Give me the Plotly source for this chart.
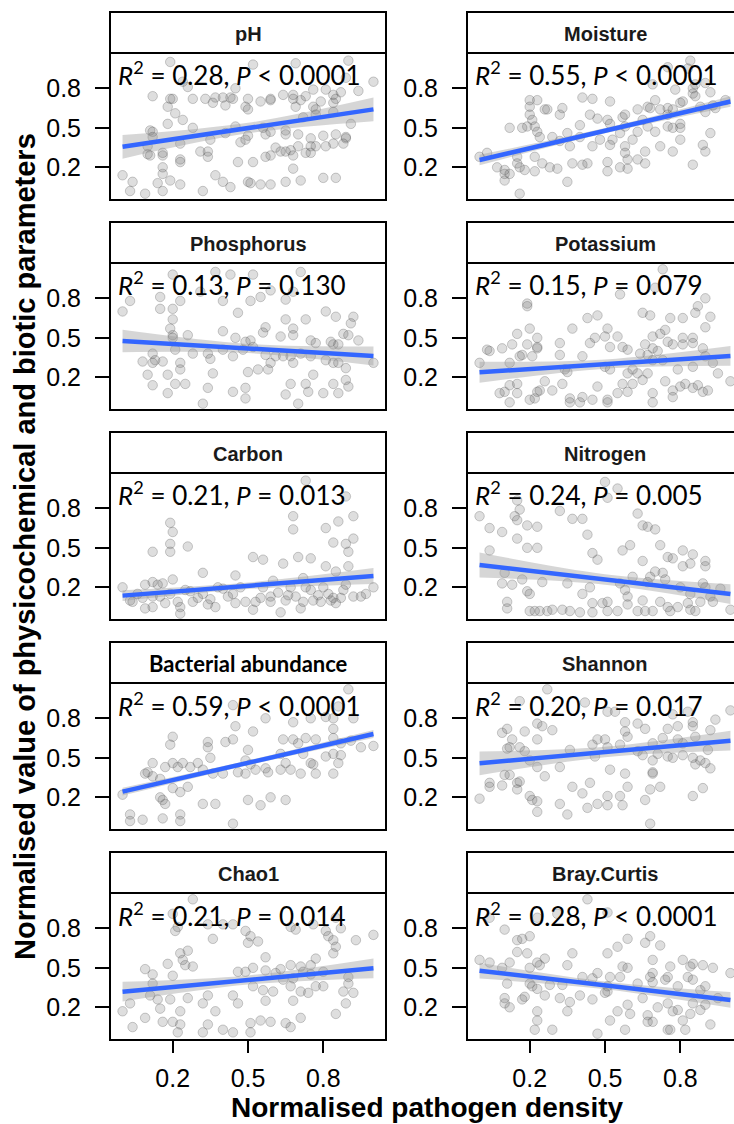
import plotly.graph_objects as go

W, H = 734, 1124

panels = ["pH", "Moisture", "Phosphorus", "Potassium", "Carbon", "Nitrogen",
          "Bacterial abundance", "Shannon", "Chao1", "Bray.Curtis"]
r2_text = ["0.28", "0.55", "0.13", "0.15", "0.21", "0.24", "0.59", "0.20", "0.21", "0.28"]
p_text = ["< 0.0001", "< 0.0001", "= 0.130", "= 0.079", "= 0.013", "= 0.005",
          "< 0.0001", "= 0.017", "= 0.014", "< 0.0001"]

tick_vals = [0.2, 0.5, 0.8]
tick_labels = ["0.2", "0.5", "0.8"]

# ---- points (x = normalised pathogen density, y = normalised parameter) ----
ph_x = [0.19,0.52,0.69,0.90,1.00,0.89,0.24,0.26,0.45,0.12, 0.20,0.19,0.28,0.33,0.37,0.40,0.43,0.44,0.50,0.59,
        0.64,0.68,0.68,0.71,0.73,0.76,0.81,0.84,0.87,0.94, 0.85,0.79,0.76,0.77,0.84,0.18,0.21,0.24,0.36,0.41,
        0.49,0.50,0.55,0.59,0.69,0.77,0.72,0.84,0.91,0.18, 0.11,0.12,0.12,0.23,0.28,0.35,0.41,0.45,0.47,0.50,
        0.56,0.57,0.59,0.65,0.65,0.70,0.75,0.80,0.85,0.89, 0.89,0.88,0.84,0.81,0.77,0.75,0.70,0.67,0.65,0.63,
        0.61,0.59,0.57,0.49,0.34,0.31,0.34,0.23,0.23,0.16, 0.16,0.10,0.10,0.11,0.46,0.52,0.68,0.73,0.75,0.00,
        0.04,0.03,0.09,0.14,0.16,0.16,0.16,0.19,0.23,0.32, 0.37,0.40,0.43,0.50,0.51,0.55,0.59,0.65,0.68,0.71,
        0.80,0.85]
ph_y = [1.00,0.98,0.99,1.01,0.85,0.88,0.85,0.81,0.80,0.74, 0.72,0.72,0.72,0.72,0.73,0.73,0.73,0.72,0.72,0.72,
        0.75,0.75,0.72,0.71,0.74,0.79,0.79,0.75,0.77,0.78, 0.72,0.70,0.66,0.64,0.69,0.66,0.61,0.56,0.69,0.67,
        0.66,0.64,0.70,0.71,0.66,0.60,0.58,0.62,0.53,0.53, 0.48,0.47,0.43,0.38,0.50,0.41,0.46,0.51,0.39,0.44,
        0.50,0.45,0.47,0.48,0.45,0.45,0.42,0.44,0.45,0.43, 0.42,0.38,0.38,0.36,0.36,0.36,0.36,0.33,0.32,0.32,
        0.35,0.29,0.28,0.41,0.32,0.32,0.28,0.26,0.24,0.29, 0.31,0.36,0.30,0.29,0.24,0.24,0.29,0.31,0.31,0.14,
        0.09,0.02,0.00,0.08,0.15,0.20,0.02,0.10,0.07,0.02, 0.14,0.09,0.05,0.09,0.08,0.07,0.07,0.09,0.19,0.10,
        0.12,0.12]

moist_x = [0.84,0.75,0.83,0.69,0.78,0.85,0.86,0.90,0.92,0.85, 0.86,0.41,0.45,0.52,0.20,0.23,0.20,0.26,0.27,0.33,
           0.32,0.20,0.21,0.19,0.22,0.12,0.17,0.23,0.24,0.29, 0.35,0.40,0.44,0.47,0.51,0.52,0.57,0.58,0.63,0.67,
           0.68,0.70,0.72,0.75,0.75,0.77,0.80,0.81,0.88,0.90, 0.93,0.94,0.98,0.65,0.67,0.70,0.75,0.77,0.80,0.80,
           0.92,0.63,0.58,0.56,0.53,0.48,0.45,0.40,0.36,0.32, 0.52,0.58,0.61,0.66,0.72,0.77,0.80,0.89,0.90,0.00,
           0.03,0.07,0.10,0.10,0.10,0.12,0.15,0.15,0.16,0.16, 0.18,0.22,0.22,0.25,0.28,0.31,0.35,0.37,0.41,0.43,
           0.51,0.51,0.56,0.58,0.59,0.59,0.63,0.66,0.85]
moist_y = [1.01,0.96,0.95,0.83,0.79,0.80,0.83,0.84,0.77,0.76, 0.74,0.73,0.72,0.70,0.71,0.71,0.66,0.64,0.64,0.65,
           0.60,0.60,0.56,0.51,0.51,0.50,0.50,0.47,0.43,0.43, 0.46,0.52,0.60,0.57,0.56,0.53,0.58,0.60,0.64,0.66,
           0.65,0.71,0.64,0.65,0.60,0.64,0.69,0.70,0.66,0.62, 0.67,0.65,0.71,0.56,0.51,0.47,0.51,0.50,0.53,0.50,
           0.46,0.47,0.51,0.46,0.41,0.41,0.36,0.43,0.36,0.40, 0.37,0.36,0.41,0.32,0.36,0.32,0.41,0.37,0.32,0.28,
           0.31,0.20,0.18,0.15,0.10,0.15,0.28,0.23,0.20,0.00, 0.18,0.28,0.17,0.23,0.20,0.19,0.09,0.23,0.22,0.23,
           0.24,0.17,0.20,0.31,0.26,0.19,0.26,0.23,0.22]

phos_x = [0.20,0.37,0.43,0.52,0.71,0.31,0.59,0.68,0.03,0.00, 0.15,0.23,0.40,0.51,0.55,0.65,0.15,0.20,0.20,0.46,
          0.81,0.85,0.92,0.91,0.90,0.65,0.73,0.68,0.68,0.57, 0.56,0.63,0.19,0.20,0.20,0.26,0.40,0.45,0.49,0.51,
          0.75,0.77,0.83,0.84,0.86,0.94,0.88,0.12,0.08,0.12, 0.13,0.16,0.21,0.23,0.23,0.28,0.34,0.35,0.40,0.44,
          0.48,0.52,0.57,0.59,0.58,0.61,0.64,0.67,0.68,0.71, 0.75,0.81,0.84,0.86,0.89,1.00,0.36,0.50,0.54,0.10,
          0.12,0.18,0.21,0.25,0.18,0.32,0.34,0.44,0.49,0.49, 0.65,0.67,0.70,0.73,0.74,0.76,0.80,0.84,0.86,0.89,
          0.90]
phos_y = [0.98,1.00,0.98,0.98,1.00,0.85,0.86,0.85,0.78,0.70, 0.81,0.78,0.78,0.78,0.81,0.79,0.72,0.72,0.64,0.69,
          0.70,0.66,0.66,0.61,0.52,0.64,0.64,0.57,0.52,0.58, 0.54,0.51,0.57,0.52,0.50,0.52,0.55,0.50,0.47,0.48,
          0.48,0.46,0.47,0.45,0.45,0.48,0.53,0.38,0.32,0.31, 0.33,0.32,0.41,0.31,0.26,0.38,0.38,0.34,0.41,0.36,
          0.41,0.43,0.37,0.31,0.26,0.36,0.36,0.36,0.31,0.38, 0.36,0.33,0.31,0.31,0.27,0.31,0.23,0.24,0.26,0.22,
          0.14,0.22,0.15,0.15,0.08,0.00,0.12,0.09,0.12,0.04, 0.07,0.15,0.00,0.15,0.09,0.22,0.08,0.15,0.08,0.18,
          0.13]

pot_x = [0.73,0.70,0.56,0.90,0.19,0.19,0.87,0.86,0.43,0.47, 0.65,0.68,0.76,0.81,0.92,0.90,0.37,0.51,0.20,0.15,
         0.23,0.46,0.50,0.55,0.69,0.72,0.74,0.81,0.85,0.03, 0.04,0.09,0.13,0.19,0.23,0.23,0.17,0.32,0.44,0.52,
         0.57,0.59,0.64,0.66,0.69,0.71,0.75,0.77,0.81,0.85, 0.89,0.90,0.00,0.12,0.16,0.21,0.32,0.41,0.34,0.35,
         0.50,0.52,0.59,0.61,0.63,0.67,0.67,0.69,0.73,0.79, 0.85,0.93,0.95,1.00,0.08,0.10,0.12,0.15,0.15,0.12,
         0.20,0.22,0.23,0.24,0.26,0.29,0.33,0.36,0.36,0.40, 0.41,0.45,0.47,0.51,0.51,0.55,0.57,0.59,0.61,0.65,
         0.69,0.69,0.74,0.77,0.77,0.80,0.82,0.85,0.87,0.89, 0.91]
pot_y = [1.02,0.88,0.83,0.80,0.76,0.74,0.74,0.69,0.65,0.67, 0.69,0.67,0.65,0.65,0.66,0.58,0.57,0.57,0.57,0.53,
         0.50,0.50,0.51,0.51,0.51,0.53,0.56,0.50,0.50,0.41, 0.40,0.42,0.45,0.45,0.43,0.42,0.37,0.46,0.46,0.43,
         0.43,0.41,0.38,0.45,0.42,0.40,0.47,0.45,0.45,0.46, 0.42,0.36,0.31,0.31,0.36,0.36,0.37,0.36,0.26,0.24,
         0.28,0.26,0.23,0.26,0.23,0.23,0.37,0.33,0.33,0.26, 0.28,0.31,0.23,0.17,0.08,0.09,0.14,0.15,0.08,0.01,
         0.03,0.04,0.09,0.10,0.17,0.10,0.15,0.04,0.01,0.01, 0.05,0.03,0.13,0.01,0.03,0.08,0.15,0.09,0.15,0.18,
         0.08,0.01,0.17,0.10,0.05,0.13,0.15,0.12,0.14,0.09, 0.10]

carb_x = [0.73,0.89,0.19,0.20,0.19,0.19,0.12,0.26,0.68,0.68, 0.86,0.92,0.81,0.92,0.84,0.89,0.90,0.90,0.81,0.75,
          0.70,0.64,0.56,0.52,0.45,0.32,0.85,0.72,0.00,0.09, 0.12,0.14,0.16,0.20,0.03,0.04,0.09,0.12,0.12,0.17,
          0.22,0.23,0.23,0.27,0.28,0.32,0.34,0.37,0.40,0.42, 0.45,0.49,0.52,0.56,0.59,0.59,0.63,0.65,0.67,0.69,
          0.71,0.75,0.76,0.79,0.82,0.84,0.85,0.88,0.92,0.95, 0.89,1.00,0.80,0.73,0.47,0.15,0.19,0.06,
          0.30,0.35,0.44,0.55,0.62,0.66,0.72,0.78,0.83,0.87, 0.38,0.60,0.25,0.08,0.53,0.97]
carb_y = [1.01,0.89,0.69,0.62,0.53,0.47,0.47,0.51,0.74,0.64, 0.70,0.74,0.65,0.57,0.54,0.53,0.47,0.36,0.36,0.42,
          0.43,0.38,0.41,0.43,0.29,0.31,0.32,0.27,0.20,0.22, 0.24,0.22,0.23,0.26,0.10,0.09,0.04,0.05,0.13,0.08,
          0.09,0.05,0.00,0.17,0.09,0.15,0.07,0.05,0.19,0.13, 0.08,0.09,0.03,0.20,0.13,0.09,0.01,0.10,0.20,0.13,
          0.04,0.18,0.10,0.09,0.15,0.12,0.08,0.18,0.13,0.13, 0.22,0.20,0.20,0.20,0.20,0.13,0.15,0.15,
          0.12,0.11,0.15,0.12,0.16,0.14,0.09,0.14,0.10,0.12, 0.20,0.25,0.18,0.12,0.09,0.15]

nit_x = [0.50,0.55,0.51,0.15,0.16,0.14,0.15,0.32,0.37,0.41, 0.63,0.00,0.04,0.09,0.15,0.19,0.23,0.43,0.65,0.67,
         0.70,0.04,0.19,0.23,0.45,0.47,0.57,0.60,0.72,0.75, 0.77,0.81,0.85,0.84,0.81,0.90,0.90,0.65,0.10,0.09,
         0.13,0.17,0.19,0.20,0.25,0.35,0.44,0.56,0.58,0.59, 0.61,0.67,0.68,0.70,0.73,0.74,0.80,0.84,0.89,0.90,
         0.92,0.96,0.11,0.11,0.20,0.22,0.24,0.27,0.29,0.33, 0.36,0.40,0.45,0.45,0.49,0.51,0.51,0.55,0.59,0.63,
         0.65,0.66,0.69,0.72,0.75,0.76,0.79,0.83,0.84,0.86, 0.88,0.93,1.00,0.41]
nit_y = [1.00,0.95,0.88,0.86,0.79,0.74,0.71,0.78,0.72,0.72, 0.76,0.74,0.65,0.62,0.57,0.67,0.66,0.60,0.67,0.66,
         0.64,0.48,0.50,0.50,0.46,0.41,0.48,0.52,0.52,0.43, 0.42,0.48,0.45,0.38,0.36,0.40,0.36,0.40,0.31,0.23,
         0.22,0.26,0.17,0.15,0.24,0.23,0.20,0.23,0.18,0.13, 0.28,0.24,0.28,0.32,0.31,0.26,0.20,0.15,0.23,0.20,
         0.13,0.19,0.09,0.04,0.02,0.02,0.02,0.02,0.03,0.03, 0.02,0.01,0.08,0.01,0.08,0.02,0.09,0.02,0.07,0.02,
         0.10,0.02,0.02,0.09,0.05,0.02,0.05,0.08,0.03,0.02, 0.09,0.09,0.03,0.15]

bact_x = [0.90,0.44,0.86,0.57,0.68,0.75,0.81,0.84,0.92,0.84, 0.45,0.52,0.20,0.19,0.34,0.34,0.41,0.44,0.50,0.64,
          0.68,0.70,0.73,0.77,0.84,0.87,0.91,0.95,1.00,0.72, 0.75,0.76,0.81,0.84,0.87,0.86,0.63,0.65,0.35,0.30,
          0.24,0.20,0.12,0.10,0.09,0.17,0.22,0.27,0.32,0.36, 0.40,0.46,0.49,0.51,0.53,0.57,0.58,0.63,0.67,0.71,
          0.77,0.84,0.49,0.12,0.00,0.15,0.20,0.23,0.26,0.15, 0.16,0.17,0.32,0.37,0.50,0.55,0.59,0.65,0.03,0.03,
          0.08,0.16,0.23,0.23,0.44]
bact_y = [1.02,0.90,0.89,0.80,0.77,0.80,0.81,0.80,0.80,0.72, 0.74,0.70,0.66,0.60,0.62,0.58,0.62,0.64,0.56,0.64,
          0.64,0.61,0.65,0.64,0.65,0.61,0.63,0.58,0.59,0.53, 0.46,0.45,0.51,0.53,0.52,0.46,0.53,0.46,0.50,0.46,
          0.46,0.46,0.46,0.39,0.38,0.43,0.43,0.43,0.41,0.38, 0.38,0.39,0.48,0.45,0.41,0.42,0.39,0.41,0.41,0.38,
          0.38,0.38,0.38,0.36,0.22,0.34,0.27,0.24,0.28,0.20, 0.18,0.15,0.15,0.15,0.18,0.14,0.20,0.18,0.07,0.02,
          0.03,0.04,0.07,0.02,0.00]

shan_x = [0.27,0.16,0.42,0.51,0.54,1.00,0.83,0.77,0.94,0.11, 0.09,0.23,0.25,0.29,0.18,0.13,0.12,0.11,0.16,0.18,
          0.23,0.58,0.63,0.66,0.58,0.59,0.75,0.79,0.85,0.85, 0.92,0.86,0.45,0.47,0.50,0.51,0.56,0.69,0.73,0.79,
          0.81,0.91,0.36,0.46,0.63,0.65,0.71,0.75,0.77,0.81, 0.85,0.88,0.90,0.92,0.86,0.69,0.69,0.69,0.23,0.20,
          0.10,0.12,0.15,0.16,0.04,0.04,0.09,0.15,0.26,0.32, 0.37,0.41,0.44,0.52,0.58,0.59,0.68,0.72,0.89,0.85,
          0.00,0.20,0.21,0.23,0.23,0.32,0.35,0.43,0.47,0.51, 0.51,0.56,0.57,0.66,0.68]
shan_y = [1.02,0.93,0.92,0.85,0.85,0.86,0.85,0.83,0.79,0.72, 0.69,0.76,0.74,0.71,0.70,0.64,0.58,0.57,0.58,0.55,
          0.64,0.77,0.76,0.72,0.70,0.66,0.72,0.74,0.77,0.74, 0.71,0.66,0.60,0.64,0.64,0.58,0.60,0.61,0.65,0.64,
          0.61,0.56,0.56,0.51,0.55,0.52,0.53,0.51,0.50,0.52, 0.50,0.48,0.46,0.42,0.45,0.48,0.39,0.38,0.43,0.48,
          0.37,0.37,0.31,0.32,0.31,0.28,0.29,0.26,0.36,0.43, 0.28,0.23,0.31,0.41,0.38,0.28,0.26,0.28,0.27,0.21,
          0.19,0.21,0.18,0.17,0.09,0.15,0.07,0.12,0.15,0.14, 0.21,0.21,0.14,0.18,0.00]

chao_x = [0.28,0.20,0.85,0.34,0.22,0.21,0.40,0.44,0.49,0.51, 0.50,0.54,0.36,0.67,0.69,0.76,0.81,0.82,0.84,0.87,
          0.85,0.84,0.93,1.00,0.26,0.23,0.24,0.25,0.28,0.18, 0.09,0.12,0.12,0.20,0.57,0.63,0.67,0.71,0.75,0.77,
          0.46,0.52,0.49,0.57,0.61,0.64,0.68,0.72,0.75,0.80, 0.90,0.90,0.88,0.92,0.80,0.77,0.74,0.71,0.67,0.60,
          0.56,0.52,0.44,0.46,0.34,0.32,0.26,0.19,0.14,0.11, 0.03,0.00,0.09,0.15,0.16,0.20,0.23,0.23,0.04,0.22,
          0.32,0.34,0.37,0.40,0.44,0.51,0.51,0.55,0.59,0.65, 0.67,0.71,0.68,0.85,0.89,0.57]
chao_y = [1.02,0.91,0.88,0.83,0.81,0.78,0.83,0.83,0.78,0.74, 0.69,0.70,0.72,0.81,0.79,0.83,0.78,0.74,0.71,0.80,
          0.66,0.61,0.71,0.75,0.63,0.61,0.56,0.52,0.51,0.53, 0.49,0.45,0.38,0.44,0.58,0.49,0.52,0.51,0.52,0.57,
          0.47,0.50,0.47,0.48,0.46,0.41,0.42,0.47,0.45,0.47, 0.43,0.38,0.32,0.31,0.36,0.36,0.31,0.32,0.36,0.32,
          0.33,0.36,0.29,0.23,0.29,0.23,0.27,0.26,0.26,0.29, 0.23,0.17,0.12,0.19,0.09,0.09,0.17,0.07,0.05,0.01,
          0.01,0.07,0.17,0.03,0.01,0.08,0.01,0.10,0.09,0.08, 0.05,0.12,0.25,0.15,0.23,0.25]

bray_x = [0.43,0.31,0.23,0.51,0.04,0.10,0.20,0.15,0.17,0.15, 0.19,0.37,0.51,0.55,0.59,0.66,0.68,0.72,0.00,0.04,
          0.12,0.23,0.26,0.24,0.20,0.09,0.35,0.57,0.59,0.69, 0.69,0.76,0.81,0.85,0.84,0.89,0.93,1.00,0.11,0.20,
          0.21,0.23,0.26,0.28,0.33,0.41,0.45,0.47,0.51,0.51, 0.52,0.56,0.63,0.68,0.69,0.74,0.75,0.79,0.83,0.85,
          0.88,0.90,0.10,0.10,0.12,0.17,0.18,0.32,0.35,0.36, 0.40,0.45,0.50,0.55,0.59,0.60,0.65,0.67,0.67,0.71,
          0.75,0.77,0.79,0.81,0.84,0.85,0.88,0.90,0.92,0.23, 0.23,0.22,0.29,0.47,0.52,0.58,0.69,0.75,0.76,0.82,
          0.95]
bray_y = [1.02,0.91,0.88,0.92,0.88,0.79,0.74,0.71,0.72,0.62, 0.61,0.61,0.61,0.66,0.72,0.69,0.74,0.67,0.56,0.54,
          0.54,0.54,0.57,0.52,0.50,0.50,0.52,0.51,0.50,0.56, 0.46,0.51,0.56,0.53,0.51,0.52,0.50,0.46,0.38,0.38,
          0.36,0.34,0.29,0.37,0.37,0.43,0.42,0.46,0.36,0.32, 0.43,0.43,0.38,0.43,0.39,0.41,0.43,0.36,0.43,0.41,
          0.33,0.36,0.27,0.23,0.20,0.26,0.28,0.27,0.17,0.24, 0.29,0.26,0.31,0.17,0.22,0.15,0.27,0.14,0.09,0.20,
          0.23,0.17,0.18,0.10,0.15,0.23,0.18,0.22,0.07,0.17, 0.10,0.03,0.03,0.00,0.10,0.03,0.09,0.03,0.03,0.03,
          0.27]

points_x = [ph_x, moist_x, phos_x, pot_x, carb_x, nit_x, bact_x, shan_x, chao_x, bray_x]
points_y = [ph_y, moist_y, phos_y, pot_y, carb_y, nit_y, bact_y, shan_y, chao_y, bray_y]

# ---- fitted lines (value at x = 0 and x = 1) and confidence half-widths ----
fit_y0 = [0.356, 0.256, 0.476, 0.238, 0.137, 0.370, 0.243, 0.458, 0.319, 0.478]
fit_y1 = [0.640, 0.700, 0.362, 0.362, 0.286, 0.149, 0.681, 0.630, 0.496, 0.256]
band_left = [0.090, 0.040, 0.085, 0.080, 0.040, 0.095, 0.030, 0.090, 0.075, 0.060]
band_mid = [0.040, 0.020, 0.035, 0.035, 0.025, 0.040, 0.018, 0.040, 0.035, 0.030]
band_right = [0.090, 0.040, 0.072, 0.075, 0.060, 0.075, 0.030, 0.075, 0.075, 0.060]

# ---- layout geometry (pixels) ----
PLOT_L = [110, 467]
PLOT_W = 276
ROW_TOP0, ROW_H, ROW_STEP = 53, 147, 210
STRIP_TOP0, STRIP_H = 12, 41
X_LO, X_SPAN = -0.05, 1.10
Y_RANGE = [-0.048, 1.068]

def fx(p):
    return p / W

def fy(p):
    return 1 - p / H

fig = go.Figure()
shapes, annotations = [], []
layout_axes = {}

for i, name in enumerate(panels):
    r, c = divmod(i, 2)
    n = i + 1
    xref = "x" if n == 1 else f"x{n}"
    yref = "y" if n == 1 else f"y{n}"
    left = PLOT_L[c]
    full_right = left + PLOT_W
    right = min(full_right, W)
    top = ROW_TOP0 + r * ROW_STEP
    bottom = top + ROW_H
    x_hi = X_LO + (right - left) / PLOT_W * X_SPAN

    bottom_row = (r == 4)
    layout_axes["xaxis" if n == 1 else f"xaxis{n}"] = dict(
        domain=[fx(left), fx(right)], range=[X_LO, x_hi], anchor=yref,
        showgrid=False, zeroline=False, showline=False,
        tickvals=tick_vals, ticktext=tick_labels,
        ticks="outside" if bottom_row else "", ticklen=12, tickwidth=2, tickcolor="black",
        showticklabels=bottom_row, ticklabelstandoff=4,
        tickfont=dict(family="Liberation Sans, Arial", size=25, color="black"),
        fixedrange=True)
    layout_axes["yaxis" if n == 1 else f"yaxis{n}"] = dict(
        domain=[fy(bottom), fy(top)], range=Y_RANGE, anchor=xref,
        showgrid=False, zeroline=False, showline=False,
        tickvals=tick_vals, ticktext=tick_labels,
        ticks="outside", ticklen=14, tickwidth=2, tickcolor="black",
        ticklabelstandoff=9,
        tickfont=dict(family="Liberation Sans, Arial", size=25, color="black"),
        fixedrange=True)

    xs = points_x[i]
    ys = points_y[i]
    m = min(len(xs), len(ys))
    fig.add_trace(go.Scatter(
        x=xs[:m], y=ys[:m], mode="markers", xaxis=xref, yaxis=yref,
        marker=dict(size=9.5, color="rgba(90,90,90,0.2)",
                    line=dict(color="rgba(60,60,60,0.25)", width=1)),
        showlegend=False, hoverinfo="skip"))

    y0, y1 = fit_y0[i], fit_y1[i]
    ym = (y0 + y1) / 2
    bx = [0.0, 0.5, 1.0]
    centre = [y0, ym, y1]
    hw = [band_left[i], band_mid[i], band_right[i]]
    fig.add_trace(go.Scatter(
        x=bx, y=[cv - h for cv, h in zip(centre, hw)], mode="lines",
        line=dict(width=0, shape="spline", color="rgba(0,0,0,0)"),
        xaxis=xref, yaxis=yref, showlegend=False, hoverinfo="skip"))
    fig.add_trace(go.Scatter(
        x=bx, y=[cv + h for cv, h in zip(centre, hw)], mode="lines",
        line=dict(width=0, shape="spline", color="rgba(0,0,0,0)"),
        fill="tonexty", fillcolor="rgba(153,153,153,0.4)",
        xaxis=xref, yaxis=yref, showlegend=False, hoverinfo="skip"))
    fig.add_trace(go.Scatter(
        x=[0.0, 1.0], y=[y0, y1], mode="lines",
        line=dict(color="#3366FF", width=4.5),
        xaxis=xref, yaxis=yref, showlegend=False, hoverinfo="skip"))

    # panel frame
    shapes.append(dict(type="rect", xref="paper", yref="paper",
                       x0=fx(left), x1=fx(full_right), y0=fy(bottom), y1=fy(top),
                       line=dict(color="black", width=2), fillcolor="rgba(0,0,0,0)", layer="above"))
    # strip
    st = STRIP_TOP0 + r * ROW_STEP
    shapes.append(dict(type="rect", xref="paper", yref="paper",
                       x0=fx(left), x1=fx(full_right), y0=fy(st + STRIP_H), y1=fy(st),
                       line=dict(color="black", width=2), fillcolor="white", layer="above"))
    if name == "Bacterial abundance":
        sfont = dict(family="Lato, Open Sans, sans-serif", size=22, color="black")
    else:
        sfont = dict(family="Liberation Sans, Arial", size=20, color="#1a1a1a")
    annotations.append(dict(xref="paper", yref="paper", x=fx(left + PLOT_W / 2),
                            y=fy(st + STRIP_H / 2 + 1), text="<b>" + name + "</b>", showarrow=False,
                            xanchor="center", yanchor="middle", font=sfont))
    # statistics label
    annotations.append(dict(xref="paper", yref="paper", x=fx(left + 6), y=fy(top + 21),
                            text="<i>R</i><sup>2</sup> = " + r2_text[i] + ", <i>P</i> "
                                 + p_text[i].replace("<", "&lt;"),
                            showarrow=False, xanchor="left", yanchor="middle",
                            font=dict(family="Lato, Open Sans, sans-serif", size=26, color="black")))

annotations.append(dict(xref="paper", yref="paper", x=fx(25), y=fy(547),
                        text="<b>Normalised value of physicochemical and biotic parameters</b>",
                        textangle=-90, showarrow=False, xanchor="center", yanchor="middle",
                        font=dict(family="Liberation Sans, Arial", size=29, color="black")))
annotations.append(dict(xref="paper", yref="paper", x=fx(427), y=fy(1124),
                        text="<b>Normalised pathogen density</b>",
                        showarrow=False, xanchor="center", yanchor="bottom", borderpad=0,
                        font=dict(family="Liberation Sans, Arial", size=28, color="black")))

fig.update_layout(
    width=W, height=H, autosize=False,
    margin=dict(l=0, r=0, t=0, b=0),
    paper_bgcolor="white", plot_bgcolor="white",
    shapes=shapes, annotations=annotations, showlegend=False,
    **layout_axes)

fig.write_html("out.html",
               config={"displayModeBar": False, "staticPlot": True},
               post_script="document.body.style.margin='0px';"
                           "document.body.style.overflow='hidden';"
                           "document.documentElement.style.overflow='hidden';")
